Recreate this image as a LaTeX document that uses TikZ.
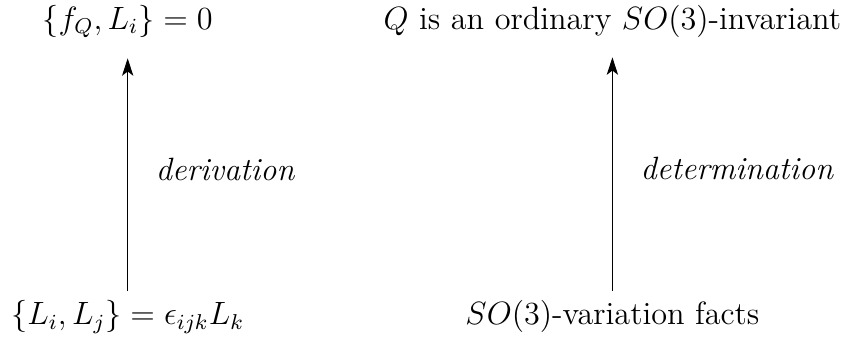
\documentclass[tikz,border=0pt]{standalone}
\usepackage{tikz}
\usetikzlibrary{arrows.meta}

\begin{document}
\begin{tikzpicture}[>={Stealth[length=6.5pt, width=4.2pt, inset=1.6pt]}, every node/.style={font=\large}]
	\useasboundingbox (0,0) rectangle (11.0,4.60);
	% Nodes
	\node[anchor=base] (poisson) at (1.67,0.35) {$\{L_i, L_j\} = \epsilon_{ijk} L_k$};
	\node[anchor=base] (commute) at (1.67,4.22) {$\{f_Q, L_i\} = 0$};
	\node[anchor=base] (facts) at (8.01,0.35) {$SO(3)$-variation facts};
	\node[anchor=base] (invariant) at (8.01,4.22) {$Q$ is an ordinary $SO(3)$-invariant};

	% Arrows
	\draw[->, shorten >=4pt] (poisson) -- node[right, xshift=7pt] {\textit{derivation}} (commute);
	\draw[->, shorten >=4pt] (facts) -- node[right, xshift=7pt] {\textit{determination}} (invariant);
\end{tikzpicture}
\end{document}
